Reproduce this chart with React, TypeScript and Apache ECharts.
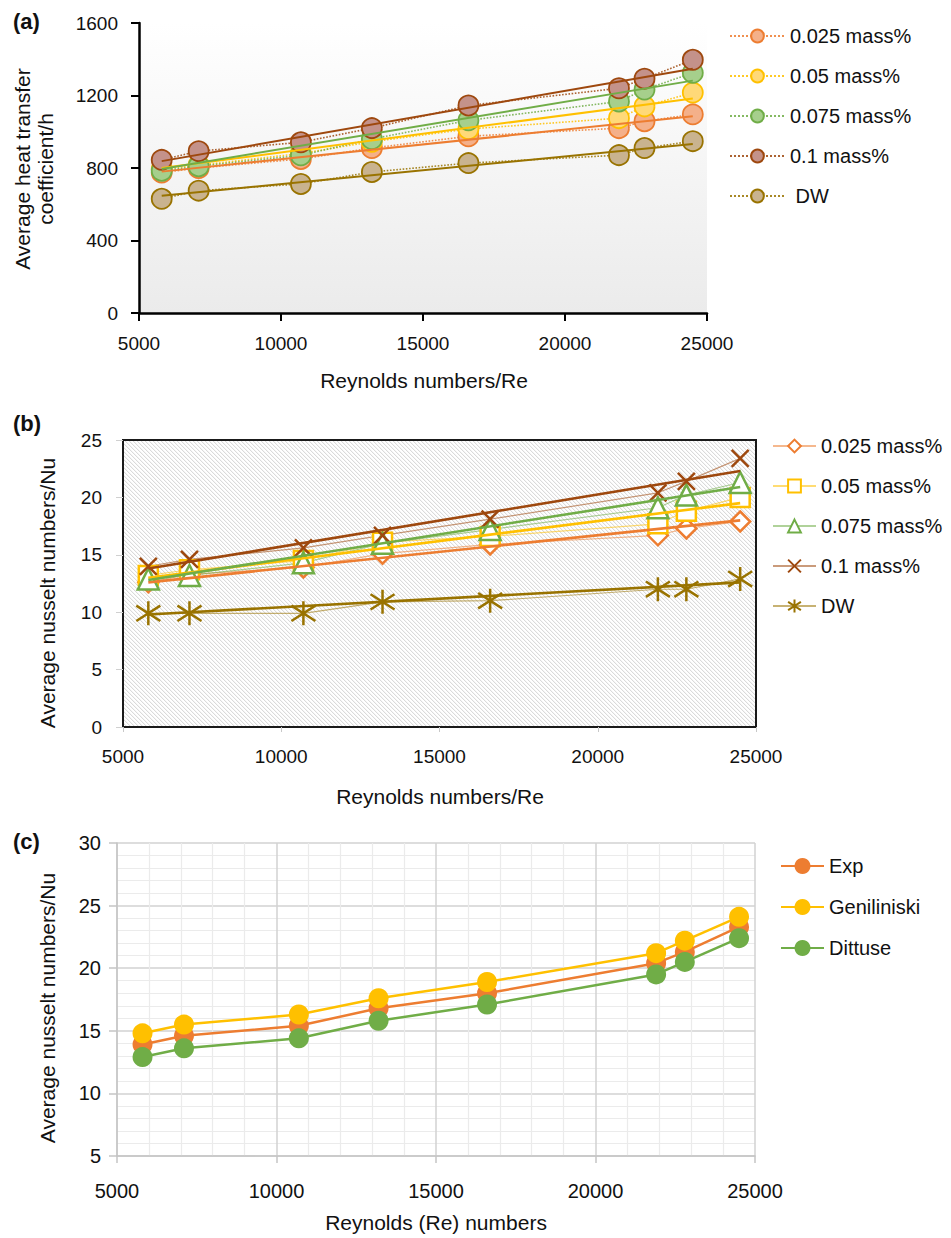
import React, { useEffect, useRef } from "react";
import * as echarts from "echarts";

// ---------- data ----------
const reynolds = [5800, 7100, 10700, 13200, 16600, 21900, 22800, 24500];
const trendRe = [5800, 24500];
const xTicks = [5000, 10000, 15000, 20000, 25000];

// panel (a): average heat transfer coefficient h
const namesA = ["0.025 mass%", "0.05 mass%", "0.075 mass%", "0.1 mass%", "DW"];
const hA025 = [775, 800, 850, 910, 975, 1020, 1058, 1096];
const hA05 = [795, 815, 880, 945, 1015, 1075, 1140, 1216];
const hA075 = [785, 810, 870, 960, 1063, 1167, 1233, 1325];
const hA1 = [845, 893, 942, 1020, 1145, 1240, 1293, 1397];
const hADW = [630, 675, 712, 778, 827, 871, 910, 948];
const trendA025 = [780, 1085];
const trendA05 = [800, 1184];
const trendA075 = [795, 1282];
const trendA1 = [838, 1348];
const trendADW = [647, 932];

// panel (b): average Nusselt number
const nuB025 = [12.6, 13.3, 13.9, 15.1, 15.9, 16.7, 17.3, 17.9];
const nuB05 = [13.2, 13.7, 14.5, 16.1, 16.6, 17.7, 18.8, 20.0];
const nuB075 = [12.9, 13.2, 14.3, 16.0, 17.2, 19.1, 20.2, 21.3];
const nuB1 = [14.0, 14.6, 15.6, 16.7, 18.1, 20.4, 21.4, 23.4];
const nuBDW = [9.9, 9.9, 9.9, 10.9, 11.0, 12.0, 12.0, 12.9];
const trendB025 = [12.6, 18.0];
const trendB05 = [13.0, 19.5];
const trendB075 = [12.8, 20.9];
const trendB1 = [13.8, 22.3];
const trendBDW = [9.8, 12.6];

// panel (c): correlations
const namesC = ["Exp", "Geniliniski", "Dittuse"];
const nuCExp = [13.9, 14.6, 15.4, 16.8, 18.0, 20.4, 21.3, 23.3];
const nuCGen = [14.8, 15.5, 16.3, 17.6, 18.9, 21.2, 22.2, 24.1];
const nuCDit = [12.9, 13.6, 14.4, 15.8, 17.1, 19.5, 20.5, 22.4];

// ---------- styles ----------
const FONT = "'Liberation Sans', Arial, Helvetica, sans-serif";
const colA = ["#ED7D31", "#FFC000", "#70AD47", "#9E480E", "#997300"];
const fillA = ["#F4B08A", "#FFD978", "#A6CF8C", "#C4928A", "#C9B38F"];
const colB = ["#ED7D31", "#FFC000", "#70AD47", "#9E480E", "#997300"];
const colC = ["#ED7D31", "#FFC000", "#70AD47"];

const SYM_X = "path://M0,0L10,10M10,0L0,10";
const SYM_STAR = "path://M5,0L5,10M0.8,1.8L9.2,8.2M9.2,1.8L0.8,8.2";

const zip = (xs: number[], ys: number[]) => xs.map((x, i) => [x, ys[i]]);
const plain = (v: number) => String(v);

function makePattern(): string {
  const c = document.createElement("canvas");
  c.width = 4;
  c.height = 4;
  const ctx = c.getContext("2d")!;
  ctx.fillStyle = "#ffffff";
  ctx.fillRect(0, 0, 4, 4);
  for (let i = 0; i < 4; i++) {
    for (let j = 0; j < 4; j++) {
      const d = (((i - j) % 4) + 4) % 4;
      if (d === 0) {
        ctx.fillStyle = "#dadada";
        ctx.fillRect(i, j, 1, 1);
      } else if (d === 1) {
        ctx.fillStyle = "#f6f6f6";
        ctx.fillRect(i, j, 1, 1);
      }
    }
  }
  return c.toDataURL();
}

export default function App() {
  const ref = useRef<HTMLDivElement>(null);

  useEffect(() => {
    if (!ref.current) return;
    const chart = echarts.init(ref.current, undefined, { renderer: "svg" });
    const pattern = makePattern();

    const labelStyle = { color: "#111", fontSize: 19, fontFamily: FONT, formatter: plain };

    const dataA = [hA025, hA05, hA075, hA1, hADW];
    const trendsA = [trendA025, trendA05, trendA075, trendA1, trendADW];
    const dataB = [nuB025, nuB05, nuB075, nuB1, nuBDW];
    const trendsB = [trendB025, trendB05, trendB075, trendB1, trendBDW];
    const symB = ["diamond", "rect", "triangle", SYM_X, SYM_STAR];
    const symSizeB = [20, 19, 21, 17, 24];
    const dataC = [nuCExp, nuCGen, nuCDit];

    const series: any[] = [];
    // panel a
    namesA.forEach((n, i) => {
      series.push({
        name: n,
        type: "line",
        xAxisIndex: 0,
        yAxisIndex: 0,
        data: zip(reynolds, dataA[i]),
        symbol: "circle",
        symbolSize: 20,
        lineStyle: { color: colA[i], width: 1.6, type: "dotted", opacity: 0.85 },
        itemStyle: { color: fillA[i], borderColor: colA[i], borderWidth: 1.8 },
        z: 2,
      });
    });
    namesA.forEach((n, i) => {
      series.push({
        name: "trendA" + i,
        type: "line",
        xAxisIndex: 0,
        yAxisIndex: 0,
        data: zip(trendRe, trendsA[i]),
        symbol: "none",
        silent: true,
        lineStyle: { color: colA[i], width: 2 },
        z: 3,
      });
    });
    // panel b
    namesA.forEach((n, i) => {
      series.push({
        name: n + "#b",
        type: "line",
        xAxisIndex: 1,
        yAxisIndex: 1,
        data: zip(reynolds, dataB[i]),
        symbol: symB[i],
        symbolSize: symSizeB[i],
        lineStyle: { color: colB[i], width: 1.2, opacity: 0.55 },
        itemStyle: { color: "#ffffff", borderColor: colB[i], borderWidth: 2.5 },
        z: 2,
      });
    });
    namesA.forEach((n, i) => {
      series.push({
        name: "trendB" + i,
        type: "line",
        xAxisIndex: 1,
        yAxisIndex: 1,
        data: zip(trendRe, trendsB[i]),
        symbol: "none",
        silent: true,
        lineStyle: { color: colB[i], width: 2.6 },
        z: 3,
      });
    });
    // panel c
    namesC.forEach((n, i) => {
      series.push({
        name: n,
        type: "line",
        xAxisIndex: 2,
        yAxisIndex: 2,
        data: zip(reynolds, dataC[i]),
        symbol: "circle",
        symbolSize: 20,
        lineStyle: { color: colC[i], width: 2.5 },
        itemStyle: { color: colC[i] },
        z: 2,
      });
    });

    const xAxisBase = {
      type: "value",
      min: xTicks[0],
      max: xTicks[xTicks.length - 1],
      interval: 5000,
    };

    const option: any = {
      animation: false,
      textStyle: { fontFamily: FONT },
      grid: [
        {
          left: 139,
          top: 23,
          width: 568,
          height: 290,
          show: true,
          borderWidth: 0,
          backgroundColor: new echarts.graphic.LinearGradient(0, 0, 0, 1, [
            { offset: 0, color: "#ffffff" },
            { offset: 1, color: "#ebebeb" },
          ]),
        },
        {
          left: 123,
          top: 440,
          width: 633,
          height: 287,
          show: true,
          borderColor: "#1a1a1a",
          borderWidth: 2,
          backgroundColor: {
            image: pattern,
            repeat: "repeat",
            imageWidth: 4,
            imageHeight: 4,
          },
        },
        {
          left: 117,
          top: 843,
          width: 638,
          height: 313,
          show: false,
        },
      ],
      xAxis: [
        {
          ...xAxisBase,
          gridIndex: 0,
          axisLine: { show: true, lineStyle: { color: "#000", width: 2.5 } },
          axisTick: { show: true, inside: false, length: 8, lineStyle: { color: "#000", width: 2 } },
          axisLabel: { ...labelStyle, margin: 21 },
          splitLine: { show: false },
        },
        {
          ...xAxisBase,
          gridIndex: 1,
          axisLine: { show: false },
          axisTick: { show: true, inside: false, length: 5, lineStyle: { color: "#c8c8c8", width: 1 } },
          axisLabel: { ...labelStyle, margin: 20 },
          splitLine: { show: false },
        },
        {
          ...xAxisBase,
          gridIndex: 2,
          axisLine: { show: true, lineStyle: { color: "#c4c4c4", width: 1.5 } },
          axisTick: { show: true, inside: false, length: 7, lineStyle: { color: "#c4c4c4", width: 1.5 } },
          axisLabel: { ...labelStyle, fontSize: 20, margin: 25 },
          splitLine: { show: true, lineStyle: { color: "#d2d2d2", width: 1.5 } },
          minorTick: { show: false, splitNumber: 5 },
          minorSplitLine: { show: true, lineStyle: { color: "#ebebeb", width: 1.2 } },
        },
      ],
      yAxis: [
        {
          type: "value",
          gridIndex: 0,
          min: 0,
          max: 1600,
          interval: 400,
          axisLine: { show: true, lineStyle: { color: "#000", width: 2.5 } },
          axisTick: { show: true, inside: false, length: 8, lineStyle: { color: "#000", width: 2 } },
          axisLabel: { ...labelStyle, margin: 21 },
          splitLine: { show: false },
        },
        {
          type: "value",
          gridIndex: 1,
          min: 0,
          max: 25,
          interval: 5,
          axisLine: { show: false },
          axisTick: { show: true, inside: false, length: 7, lineStyle: { color: "#d0d0d0", width: 1 } },
          axisLabel: { ...labelStyle, margin: 21 },
          splitLine: { show: false },
        },
        {
          type: "value",
          gridIndex: 2,
          min: 5,
          max: 30,
          interval: 5,
          axisLine: { show: true, lineStyle: { color: "#c4c4c4", width: 1.5 } },
          axisTick: { show: true, inside: false, length: 8, lineStyle: { color: "#c4c4c4", width: 1.5 } },
          axisLabel: { ...labelStyle, fontSize: 20, margin: 16 },
          splitLine: { show: true, lineStyle: { color: "#d2d2d2", width: 1.5 } },
          minorTick: { show: false, splitNumber: 5 },
          minorSplitLine: { show: true, lineStyle: { color: "#ebebeb", width: 1.2 } },
        },
      ],
      legend: [
        {
          orient: "vertical",
          left: 724,
          top: 21,
          itemWidth: 55,
          itemHeight: 16,
          itemGap: 20,
          selectedMode: false,
          data: namesA,
          textStyle: { color: "#111", fontSize: 20, fontFamily: FONT },
          formatter: (n: string) => (n === "DW" ? " DW" : n),
        },
        {
          orient: "vertical",
          left: 767,
          top: 431,
          itemWidth: 43,
          itemHeight: 16,
          itemGap: 20,
          selectedMode: false,
          data: namesA.map((n) => n + "#b"),
          textStyle: { color: "#111", fontSize: 20, fontFamily: FONT },
          formatter: (n: string) => n.split("#")[0],
        },
        {
          orient: "vertical",
          left: 775,
          top: 851,
          itemWidth: 43,
          itemHeight: 20,
          itemGap: 21,
          selectedMode: false,
          data: namesC,
          textStyle: { color: "#111", fontSize: 20, fontFamily: FONT },
        },
      ],
      graphic: [
        { type: "text", x: 13, y: 21, style: { text: "(a)", font: `bold 22px ${FONT}`, fill: "#111", verticalAlign: "middle" } },
        { type: "text", x: 13, y: 423, style: { text: "(b)", font: `bold 22px ${FONT}`, fill: "#111", verticalAlign: "middle" } },
        { type: "text", x: 13, y: 841, style: { text: "(c)", font: `bold 22px ${FONT}`, fill: "#111", verticalAlign: "middle" } },
        { type: "text", x: 424, y: 380, style: { text: "Reynolds numbers/Re", font: `21px ${FONT}`, fill: "#111", align: "center", verticalAlign: "middle" } },
        { type: "text", x: 440, y: 796, style: { text: "Reynolds numbers/Re", font: `21px ${FONT}`, fill: "#111", align: "center", verticalAlign: "middle" } },
        { type: "text", x: 436, y: 1222, style: { text: "Reynolds (Re) numbers", font: `21px ${FONT}`, fill: "#111", align: "center", verticalAlign: "middle" } },
        {
          type: "text", x: 34, y: 169, rotation: Math.PI / 2,
          style: { text: "Average heat transfer\ncoefficient/h", font: `21px ${FONT}`, lineHeight: 23, fill: "#111", align: "center", verticalAlign: "middle" },
        },
        {
          type: "text", x: 47, y: 593, rotation: Math.PI / 2,
          style: { text: "Average nusselt numbers/Nu", font: `21px ${FONT}`, fill: "#111", align: "center", verticalAlign: "middle" },
        },
        {
          type: "text", x: 47, y: 1008, rotation: Math.PI / 2,
          style: { text: "Average nusselt numbers/Nu", font: `21px ${FONT}`, fill: "#111", align: "center", verticalAlign: "middle" },
        },
      ],
      series,
    };

    chart.setOption(option);
    return () => chart.dispose();
  }, []);

  return (
    <div
      ref={ref}
      style={{ position: "absolute", left: 0, top: 0, width: 951, height: 1238, background: "#fff" }}
    />
  );
}
